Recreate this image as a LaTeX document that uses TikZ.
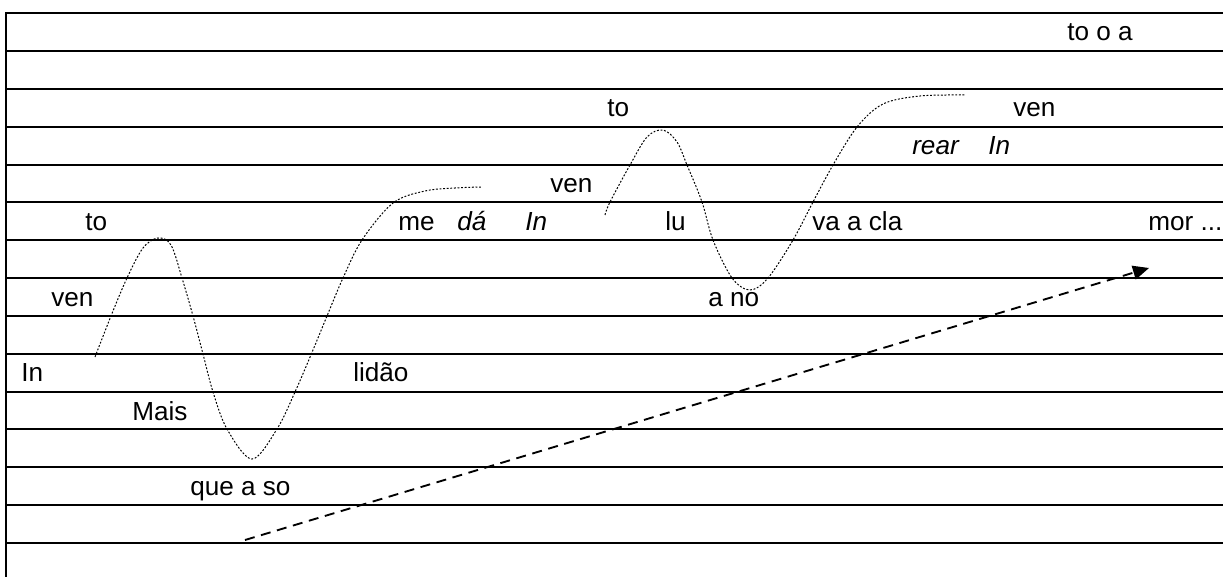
\documentclass[tikz,border=0pt]{standalone}
\usepackage{fontspec}
\setmainfont{Liberation Sans}
\usetikzlibrary{arrows.meta}
\begin{document}
\begin{tikzpicture}[x=0.75pt,y=-0.75pt,
  rule/.style={line width=1.4pt},
  word/.style={anchor=base west,inner sep=0pt,font=\fontsize{19.6}{22}\selectfont},
  iword/.style={word,font=\fontsize{19.6}{22}\selectfont\itshape},
  melody/.style={line width=0.75pt,dash pattern=on 1.4pt off 1.3pt},
  trend/.style={line width=1.4pt,dash pattern=on 7.5pt off 5pt,-{Triangle[length=12pt,width=10.5pt]}}]
\useasboundingbox (0,0) rectangle (1223,577);
% staff lines
\foreach \yy in {13,51,89,127,165,202,240,278,316,354,392,429,467,505,543}
  \draw[rule] (6,\yy) -- (1223,\yy);
\draw[rule] (6,12.3) -- (6,577);
% words
\node[word] (t1) at (1067,41) {to o a};
\node[word] (t2) at (607,117) {to};
\node[word] (t3) at (1013,117) {ven};
\node[iword] (t4) at (912,155) {rear};
\node[iword] (t5) at (988,155) {In};
\node[word] (t6) at (550,193) {ven};
\node[word] (t7) at (85,230) {to};
\node[word] (t8) at (398,230) {me};
\node[iword] (t9) at (457,230) {dá};
\node[iword] (t10) at (525,230) {In};
\node[word] (t11) at (665,230) {lu};
\node[word] (t12) at (812,230) {va a cla};
\node[word] (t13) at (1148,230) {mor ...};
\node[word] (t14) at (51,306) {ven};
\node[word] (t15) at (708,306) {a no};
\node[word] (t16) at (21,381) {In};
\node[word] (t17) at (353,381) {lidão};
\node[word] (t18) at (132,420) {Mais};
\node[word] (t19) at (190,495) {que a so};
% melodic curves
\draw[melody] plot[smooth,tension=0.55] coordinates {(95,357) (111,316) (127,278) (143,248) (158,238) (171,245) (182,278) (193,316) (203,354) (213,392) (227,429) (252,459) (277,429) (295,392) (313,350) (327,316) (343,278) (362,240) (393,203) (425,191) (455,188) (482,187)};
\draw[melody] plot[smooth,tension=0.55] coordinates {(605,215) (610,202) (630,165) (647,137) (663,130) (677,142) (687,165) (702,202) (713,240) (732,278) (750,290) (768,278) (793,240) (813,202) (833,165) (857,127) (883,104) (920,96) (966,95)};
% trend arrow
\coordinate (a0) at (245,540);
\coordinate (a1) at (1149,268);
\draw[trend] (a0) -- (a1);
\end{tikzpicture}
\end{document}
